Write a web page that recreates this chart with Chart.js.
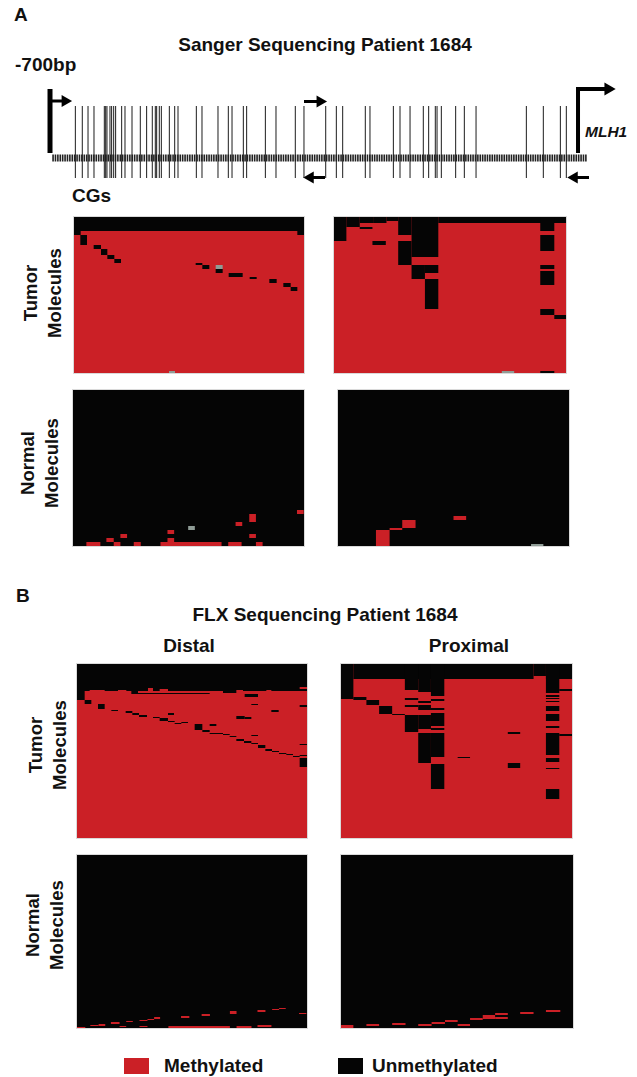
<!DOCTYPE html>
<html>
<head>
<meta charset="utf-8">
<script src="https://cdn.jsdelivr.net/npm/chart.js@4"></script>
<style>
html, body { margin: 0; padding: 0; background: #fff; }
#page { position: relative; width: 637px; height: 1077px; overflow: hidden;
  font-family: "Liberation Sans", Arial, sans-serif; font-weight: bold; color: #111; font-size: 19px; }
#page canvas { position: absolute; filter: blur(0.4px); }
#page canvas.panel { outline: 1px solid rgba(150, 150, 150, 0.35); }
.t { position: absolute; white-space: nowrap; line-height: 1; }
.c { transform: translateX(-50%); text-align: center; }
.r { transform: translate(-50%, -50%) rotate(-90deg); text-align: center; line-height: 24px; font-size: 18.6px; }
.sw { position: absolute; width: 25px; height: 16px; }
</style>
</head>
<body>
<div id="page">
  <div class="t" style="left:14px;top:5px">A</div>
  <div class="t c" style="left:325px;top:35px">Sanger Sequencing Patient 1684</div>
  <div class="t" style="left:15px;top:55px">-700bp</div>
  <div class="t" style="left:72px;top:186px">CGs</div>
  <div class="t" style="left:585px;top:124px;font-size:15.5px;font-style:italic">MLH1</div>
  <div class="t r" style="left:43px;top:293px">Tumor<br>Molecules</div>
  <div class="t r" style="left:40px;top:463px">Normal<br>Molecules</div>
  <div class="t" style="left:16px;top:586px">B</div>
  <div class="t c" style="left:325px;top:605px">FLX Sequencing Patient 1684</div>
  <div class="t c" style="left:189px;top:636px">Distal</div>
  <div class="t c" style="left:469px;top:636px">Proximal</div>
  <div class="t r" style="left:48px;top:745px">Tumor<br>Molecules</div>
  <div class="t r" style="left:45px;top:925px">Normal<br>Molecules</div>
  <div class="sw" style="left:124px;top:1058px;background:#cb2026"></div>
  <div class="t" style="left:164px;top:1056px">Methylated</div>
  <div class="sw" style="left:338px;top:1058px;background:#050505"></div>
  <div class="t" style="left:372px;top:1056px">Unmethylated</div>
</div>
<script>
const RED = '#cb2026';
const BLACK = '#050505';
const GRAY = '#8f9c96';

// CpG sites, bp relative to the MLH1 start
const cgSites = [-666.4, -657.2, -649.6, -641.7, -628.0, -626.2, -624.5, -620.5, -618.3, -615.6,
  -613.0, -605.0, -600.6, -591.3, -580.3, -571.9, -564.4, -560.4, -558.6, -555.1, -552.4,
  -541.8, -534.7, -530.3, -506.0, -498.5, -477.3, -463.6, -458.7, -443.7, -439.3, -414.5,
  -400.4, -374.8, -363.3, -334.5, -320.4, -312.0, -282.0, -275.8, -244.8, -236.0, -222.7,
  -205.1, -198.0, -189.2, -186.9, -181.2, -162.2, -150.7, -135.2, -68.5, -46.0, -23.4, -15.5];
const cgHeight = [12, 84];
const regionSpan = [-697, 12];
const regionLevel = 32;
const startBar = [-700, 37, 101];
const tssPath = [[0, 37], [0, 101], [40, 101]];
const primerArrows = [
  [[-700, 89], [-680, 89]],
  [[-363.3, 88.5], [-342, 88.5]],
  [[-335.4, 12.5], [-355, 12.5]],
  [[14.6, 12.5], [-5, 12.5]]
];

// blocks: [from, to, rowFrom, rowTo], from/to along the region, rows from the top of the panel
const sangerTumorDistal = [
  [0, 690, 0, 7], [0, 20, 7, 9], [670, 690, 7, 9],
  [19, 39, 9, 14], [59, 81, 14, 16], [81, 100, 16, 19], [100, 121, 19, 21], [121, 141, 21, 23],
  [365, 385, 23, 24], [385, 406, 24, 26], [425, 446, 26, 28], [464, 506, 28, 30],
  [527, 548, 30, 31], [586, 608, 31, 33], [628, 650, 33, 35], [650, 670, 35, 37]
];
const sangerTumorDistalGray = [[425, 446, 24, 26], [285, 303, 77, 78]];

const sangerTumorProximal = [
  [0, 37, 0, 12], [37, 77, 0, 5], [77, 117, 0, 3], [77, 115, 5, 6], [117, 157, 0, 3],
  [115, 155, 12, 14], [157, 192, 0, 2], [192, 232, 0, 9], [192, 232, 12, 24], [232, 312, 0, 20],
  [232, 272, 24, 31], [272, 312, 24, 28], [272, 312, 31, 46], [312, 694, 0, 3],
  [617, 659, 0, 7], [617, 659, 9, 17], [617, 659, 24, 26], [617, 659, 27, 34],
  [617, 659, 46, 49], [617, 659, 77, 78], [659, 694, 49, 51]
];
const sangerTumorProximalGray = [[502, 539, 77, 78]];

const sangerNormalDistal = [
  [40, 82, 76, 78], [100, 122, 74, 76], [122, 142, 76, 78], [142, 162, 72, 74], [182, 203, 76, 78],
  [262, 445, 76, 78], [283, 303, 74, 76], [283, 303, 70, 72], [465, 505, 76, 78], [487, 507, 66, 68],
  [528, 548, 62, 66], [528, 548, 72, 74], [548, 568, 76, 78], [671, 691, 60, 62]
];
const sangerNormalDistalGray = [[345, 365, 68, 70]];

const sangerNormalProximal = [
  [114, 155, 70, 78], [155, 193, 69, 70], [193, 233, 65, 69], [347, 385, 63, 65]
];
const sangerNormalProximalGray = [[580, 617, 77, 78]];

const flxTumorDistal = [
  [0, 690, 0, 27], [0, 23, 27, 36], [178, 398, 29, 30], [163, 183, 27, 30], [438, 478, 27, 29],
  [503, 543, 30, 33], [523, 543, 40, 41], [668, 690, 41, 43], [583, 605, 46, 48], [478, 503, 52, 55],
  [503, 523, 53, 55], [273, 291, 49, 51], [398, 418, 60, 62], [523, 543, 71, 72],
  [668, 690, 80, 81], [668, 690, 91, 92],
  [23, 43, 36, 40], [63, 83, 40, 45], [103, 123, 46, 47], [146, 166, 47, 49], [166, 186, 49, 51],
  [186, 210, 51, 53], [228, 248, 53, 54], [248, 273, 54, 57], [273, 293, 57, 58], [293, 313, 59, 60],
  [313, 333, 58, 59], [353, 376, 60, 66], [376, 398, 66, 68], [398, 438, 69, 70], [438, 458, 70, 71],
  [458, 478, 72, 73], [478, 501, 75, 77], [501, 523, 77, 79], [523, 543, 79, 80], [543, 565, 81, 84],
  [565, 585, 85, 87], [585, 606, 87, 88], [606, 628, 89, 90], [628, 648, 90, 91], [648, 668, 92, 93],
  [668, 690, 94, 103]
];
const flxTumorDistalSpecks = [
  [213, 228, 24, 27], [248, 273, 25, 27], [38, 83, 26, 27], [123, 148, 26, 27],
  [668, 690, 23, 25], [478, 498, 26, 27], [568, 583, 26, 27]
];

const flxTumorProximal = [
  [0, 37, 0, 35], [37, 576, 0, 15], [576, 613, 0, 12], [613, 691, 0, 15], [37, 76, 33, 36], [76, 114, 36, 41],
  [114, 153, 42, 50], [153, 191, 50, 51], [191, 231, 0, 26], [191, 231, 34, 36], [191, 231, 41, 43],
  [191, 231, 51, 68], [231, 269, 0, 28], [231, 269, 37, 39], [231, 269, 41, 46], [231, 269, 51, 65],
  [231, 269, 69, 99], [269, 309, 0, 32], [269, 309, 35, 37], [269, 309, 44, 46], [269, 309, 49, 62],
  [269, 309, 64, 66], [269, 309, 69, 93], [269, 309, 100, 125],
  [613, 653, 0, 29], [613, 653, 31, 33], [613, 653, 34, 35], [613, 653, 37, 38], [613, 653, 42, 47],
  [613, 653, 50, 57], [613, 653, 62, 64], [613, 653, 69, 91], [613, 653, 94, 98], [613, 653, 104, 105],
  [613, 653, 125, 135], [653, 691, 25, 27], [653, 691, 70, 72], [349, 386, 93, 94],
  [499, 536, 68, 70], [499, 536, 99, 104]
];

const flxNormalDistal = [
  [0, 25, 172, 173], [40, 65, 170, 171], [65, 85, 169, 171], [102, 128, 167, 169], [128, 148, 171, 172],
  [148, 168, 166, 167], [188, 212, 165, 166], [188, 212, 171, 172], [212, 232, 164, 165],
  [232, 250, 162, 164], [313, 338, 161, 163], [375, 400, 159, 161], [275, 460, 171, 173],
  [460, 480, 156, 159], [480, 525, 171, 173], [543, 585, 170, 172], [543, 567, 155, 157],
  [587, 608, 154, 155], [608, 628, 153, 154], [668, 690, 158, 159]
];

const flxNormalProximal = [
  [0, 37, 170, 173], [76, 114, 169, 171], [153, 193, 168, 170], [231, 271, 169, 171],
  [271, 311, 167, 169], [311, 349, 165, 167], [349, 386, 169, 171], [386, 424, 163, 165],
  [424, 461, 160, 164], [461, 499, 158, 160], [461, 499, 162, 164], [536, 576, 157, 159],
  [613, 656, 155, 157]
];

function addCanvas(left, top, width, height) {
  const c = document.createElement('canvas');
  c.width = width;
  c.height = height;
  c.style.left = left + 'px';
  c.style.top = top + 'px';
  c.style.width = width + 'px';
  c.style.height = height + 'px';
  document.getElementById('page').appendChild(c);
  return c;
}

// one floating horizontal bar per row a block touches
function blockDataset(block, color, order) {
  const data = [];
  for (let r = block[2]; r < block[3]; r++) {
    data.push({ x: [block[0], block[1]], y: r });
  }
  return { data: data, backgroundColor: color, order: order, inflateAmount: 0,
    barPercentage: 1, categoryPercentage: 1, grouped: false };
}

function drawPanel(box, span, rows, base, layers) {
  const labels = [];
  for (let r = 0; r < rows; r++) labels.push(r);
  const datasets = [blockDataset([0, span, 0, rows], base, 1000)];
  let order = 999;
  layers.forEach(function (layer) {
    layer.blocks.forEach(function (b) {
      datasets.push(blockDataset(b, layer.color, order--));
    });
  });
  const canvas = addCanvas(box[0], box[1], box[2], box[3]);
  canvas.className = 'panel';
  new Chart(canvas, {
    type: 'bar',
    data: { labels: labels, datasets: datasets },
    options: {
      indexAxis: 'y',
      animation: false,
      responsive: false,
      devicePixelRatio: 1,
      layout: { padding: 0, autoPadding: false },
      plugins: { legend: { display: false }, tooltip: { enabled: false } },
      scales: {
        x: { type: 'linear', min: 0, max: span, display: false },
        y: { type: 'category', display: false }
      }
    }
  });
}

function drawMap() {
  const ticks = [];
  cgSites.forEach(function (s) {
    ticks.push({ x: s, y: cgHeight[0] }, { x: s, y: cgHeight[1] }, { x: s, y: null });
  });
  const pt = function (p) { return { x: p[0], y: p[1] }; };
  const datasets = [
    { data: ticks, borderColor: '#1c1c1c', borderWidth: 1, spanGaps: false, pointRadius: 0 },
    { data: [{ x: regionSpan[0], y: regionLevel }, { x: regionSpan[1], y: regionLevel }],
      borderColor: '#222', borderWidth: 7, borderDash: [1.6, 0.8], pointRadius: 0 },
    { data: [{ x: startBar[0], y: startBar[1] }, { x: startBar[0], y: startBar[2] }],
      borderColor: '#000', borderWidth: 5, pointRadius: 0 },
    { data: tssPath.map(pt), borderColor: '#000', borderWidth: 4, pointRadius: [0, 0, 7.5],
      pointStyle: 'triangle', pointRotation: 90, pointBackgroundColor: '#000', pointBorderWidth: 0 }
  ];
  primerArrows.forEach(function (a) {
    const pointsRight = a[1][0] > a[0][0];
    datasets.push({ data: a.map(pt), borderColor: '#000', borderWidth: 3, pointRadius: [0, 7],
      pointStyle: 'triangle', pointRotation: pointsRight ? 90 : -90,
      pointBackgroundColor: '#000', pointBorderWidth: 0 });
  });
  new Chart(addCanvas(0, 80, 637, 110), {
    type: 'line',
    data: { datasets: datasets },
    options: {
      animation: false,
      responsive: false,
      devicePixelRatio: 1,
      layout: { padding: 0, autoPadding: false },
      plugins: { legend: { display: false }, tooltip: { enabled: false } },
      scales: {
        x: { type: 'linear', min: -766.3, max: 78.2, display: false },
        y: { type: 'linear', min: 0, max: 110, display: false }
      }
    }
  });
}

drawMap();

drawPanel([74, 217, 230, 156], 690, 78, RED, [{ blocks: sangerTumorDistal, color: BLACK }, { blocks: sangerTumorDistalGray, color: GRAY }]);
drawPanel([334, 217, 232, 156], 694, 78, RED, [{ blocks: sangerTumorProximal, color: BLACK }, { blocks: sangerTumorProximalGray, color: GRAY }]);
drawPanel([73, 390, 231, 156], 692, 78, BLACK, [{ blocks: sangerNormalDistal, color: RED }, { blocks: sangerNormalDistalGray, color: GRAY }]);
drawPanel([338, 390, 231, 156], 694, 78, BLACK, [{ blocks: sangerNormalProximal, color: RED }, { blocks: sangerNormalProximalGray, color: GRAY }]);
drawPanel([77, 664, 230, 174], 690, 174, RED, [{ blocks: flxTumorDistal, color: BLACK }, { blocks: flxTumorDistalSpecks, color: RED }]);
drawPanel([341, 664, 231, 174], 691, 174, RED, [{ blocks: flxTumorProximal, color: BLACK }]);
drawPanel([77, 855, 230, 173], 692, 173, BLACK, [{ blocks: flxNormalDistal, color: RED }]);
drawPanel([341, 855, 232, 173], 694, 173, BLACK, [{ blocks: flxNormalProximal, color: RED }]);
</script>
</body>
</html>
